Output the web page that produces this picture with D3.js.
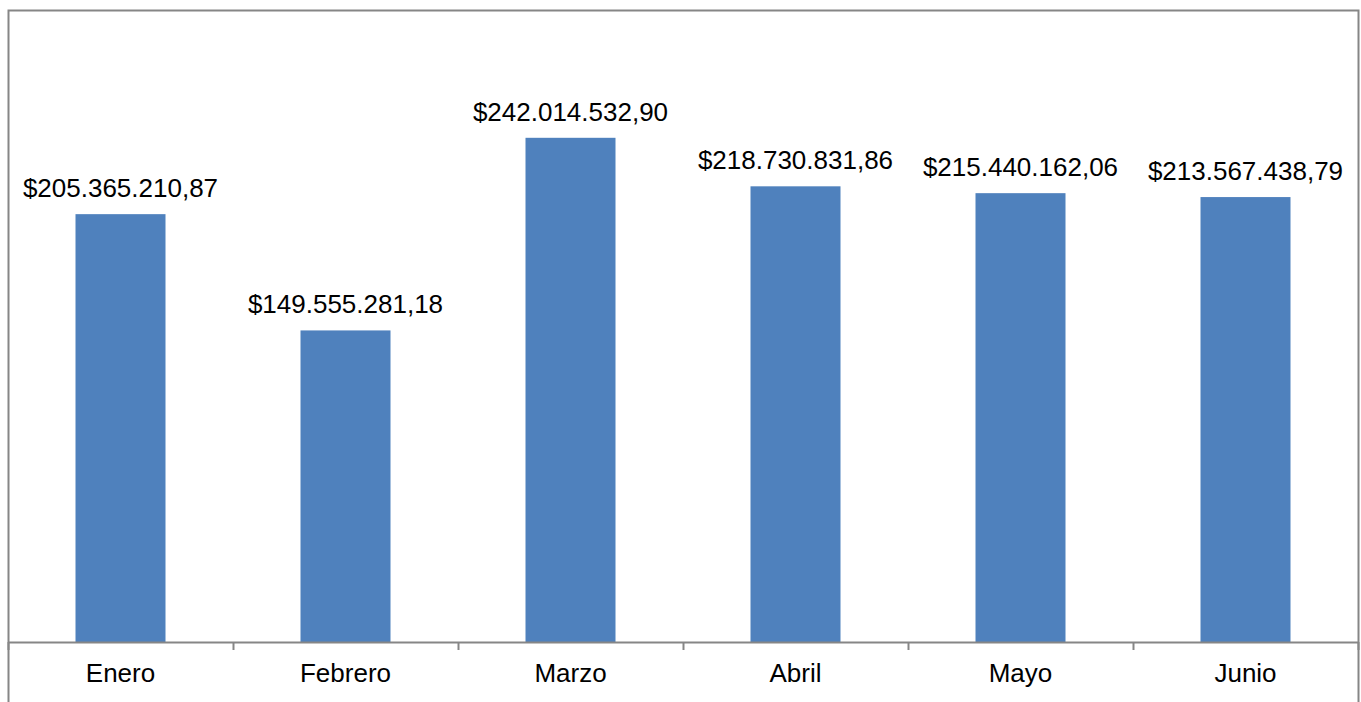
<!DOCTYPE html>
<html><head><meta charset="utf-8">
<script src="https://cdn.jsdelivr.net/npm/d3@7"></script>
<style>body{margin:0;background:#fff}svg{display:block}</style>
</head><body>
<svg id="c" width="1361" height="702"></svg>
<script>
const categories = ["Enero","Febrero","Marzo","Abril","Mayo","Junio"];
const values = [205365210.87,149555281.18,242014532.90,218730831.86,215440162.06,213567438.79];
const labels = ["$205.365.210,87","$149.555.281,18","$242.014.532,90","$218.730.831,86","$215.440.162,06","$213.567.438,79"];
const yMax = 300000000;

const svg = d3.select("#c");
const L = 8, R = 1358, T = 17, B = 642;
const font = "'Liberation Sans', Arial, sans-serif";

// chart border
svg.append("rect").attr("x",8.5).attr("y",10.5).attr("width",1350).attr("height",720)
  .attr("fill","none").attr("stroke","#868686").attr("stroke-width",2);

const x = d3.scaleBand().domain(categories).range([L,R]).paddingInner(0.6).paddingOuter(0.3);
const xb = d3.scaleBand().domain(categories).range([L,R]);
const y = d3.scaleLinear().domain([0,yMax]).range([B,T]);

svg.append("g").selectAll("rect").data(values).join("rect")
  .attr("x",(d,i)=>x(categories[i])).attr("width",x.bandwidth())
  .attr("y",d=>y(d)).attr("height",d=>B-y(d)).attr("fill","#4F81BD");

// axis
const ax = svg.append("g").attr("transform",`translate(0,${B})`);
ax.append("line").attr("x1",L).attr("x2",R).attr("y1",0.5).attr("y2",0.5).attr("stroke","#868686").attr("stroke-width",2);
const tickXs = categories.map(c=>xb(c)).concat([R]);
ax.selectAll("line.t").data(tickXs).join("line").attr("class","t")
  .attr("x1",d=>d+0.5).attr("x2",d=>d+0.5).attr("y1",0).attr("y2",8).attr("stroke","#868686").attr("stroke-width",2);
ax.selectAll("text").data(categories).join("text")
  .attr("x",d=>xb(d)+xb.bandwidth()/2).attr("y",40)
  .attr("text-anchor","middle").attr("font-family",font).attr("font-size",26)
  .attr("fill","#000").text(d=>d);

svg.append("g").selectAll("text").data(values).join("text")
  .attr("x",(d,i)=>xb(categories[i])+xb.bandwidth()/2).attr("y",d=>y(d)-17)
  .attr("text-anchor","middle").attr("font-family",font).attr("font-size",26)
  .attr("fill","#000").text((d,i)=>labels[i]);
</script>
</body></html>
